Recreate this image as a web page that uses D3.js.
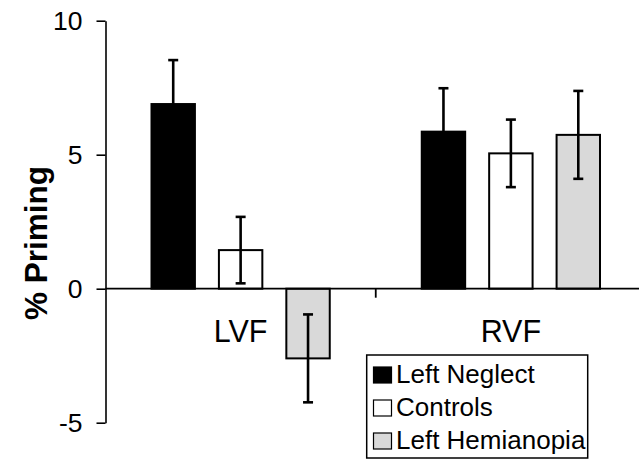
<!DOCTYPE html>
<html>
<head>
<meta charset="utf-8">
<script src="https://cdn.jsdelivr.net/npm/d3@7"></script>
<style>
  html, body { margin: 0; padding: 0; background: #fff; }
  svg { display: block; font-family: "Liberation Sans", Arial, Helvetica, sans-serif; }
</style>
</head>
<body>
<svg id="chart" width="639" height="459"></svg>
<script>
// ---- data ----
const categories = ["LVF", "RVF"];
const seriesNames = ["Left Neglect", "Controls", "Left Hemianopia"];
const leftNeglect = [6.89, 5.86];
const leftNeglectErr = [1.64, 1.62];
const controls = [1.44, 5.05];
const controlsErr = [1.24, 1.26];
const leftHemianopia = [-2.60, 5.74];
const leftHemianopiaErr = [1.64, 1.64];
const yTicks = [-5, 0, 5, 10];
const yTickLabels = ["-5", "0", "5", "10"];

const seriesValues = [leftNeglect, controls, leftHemianopia];
const seriesErrors = [leftNeglectErr, controlsErr, leftHemianopiaErr];
const fills = ["#000000", "#ffffff", "#d9d9d9"];

const svg = d3.select("#chart");

const y = d3.scaleLinear().domain([-5, 10]).range([422.7, 20.7]);
const x = d3.scaleBand().domain(categories).range([105.5, 646]).padding(0);
const xi = d3.scaleBand().domain(seriesNames).range([46, x.bandwidth() - 46]).paddingInner(0.356).paddingOuter(0);

// y axis
const yAxis = d3.axisLeft(y).tickValues(yTicks).tickSize(9).tickSizeOuter(0).tickPadding(14)
  .tickFormat((d, i) => yTickLabels[i]);
const gy = svg.append("g").attr("transform", "translate(105.5,0)").call(yAxis);
gy.select(".domain").attr("stroke", "#000").attr("stroke-width", 1.6);
gy.selectAll(".tick line").attr("stroke", "#000").attr("stroke-width", 1.6);
gy.selectAll(".tick text").attr("font-size", 26.5).attr("fill", "#000")
  .attr("font-family", "'Liberation Sans', Arial, sans-serif");

// bars
const rows = [];
categories.forEach((c, ci) => {
  seriesNames.forEach((s, si) => {
    rows.push({cat: c, ser: s, v: seriesValues[si][ci], e: seriesErrors[si][ci], fill: fills[si]});
  });
});

const gBars = svg.append("g");
gBars.selectAll("rect").data(rows).join("rect")
  .attr("x", d => x(d.cat) + xi(d.ser))
  .attr("width", xi.bandwidth())
  .attr("y", d => Math.min(y(d.v), y(0)))
  .attr("height", d => Math.abs(y(d.v) - y(0)))
  .attr("fill", d => d.fill)
  .attr("stroke", "#000")
  .attr("stroke-width", 2);

// error bars
const gErr = svg.append("g").attr("stroke", "#000").attr("stroke-width", 2.6);
rows.forEach(d => {
  const cx = x(d.cat) + xi(d.ser) + xi.bandwidth() / 2;
  gErr.append("line").attr("x1", cx).attr("x2", cx).attr("y1", y(d.v + d.e)).attr("y2", y(d.v - d.e));
  gErr.append("line").attr("x1", cx - 5).attr("x2", cx + 5).attr("y1", y(d.v + d.e)).attr("y2", y(d.v + d.e));
  gErr.append("line").attr("x1", cx - 5).attr("x2", cx + 5).attr("y1", y(d.v - d.e)).attr("y2", y(d.v - d.e));
});

// x axis line at zero
svg.append("line")
  .attr("x1", x.range()[0]).attr("x2", x.range()[1])
  .attr("y1", y(0)).attr("y2", y(0))
  .attr("stroke", "#000").attr("stroke-width", 1.8);
// category separator tick
svg.append("line")
  .attr("x1", x("RVF")).attr("x2", x("RVF"))
  .attr("y1", y(0)).attr("y2", y(0) + 9)
  .attr("stroke", "#000").attr("stroke-width", 1.8);

// category labels
svg.append("g").selectAll("text").data(categories).join("text")
  .attr("x", d => x(d) + x.bandwidth() / 2)
  .attr("y", 342)
  .attr("text-anchor", "middle")
  .attr("font-size", 30.5)
  .text(d => d);

// y title
svg.append("text")
  .attr("transform", "translate(47,243) rotate(-90)")
  .attr("text-anchor", "middle")
  .attr("font-size", 31.5)
  .attr("font-weight", "bold")
  .text("% Priming");

// legend
const lg = svg.append("g");
lg.append("rect").attr("x", 366.7).attr("y", 355).attr("width", 221).attr("height", 103)
  .attr("fill", "#fff").attr("stroke", "#000").attr("stroke-width", 1.5);
seriesNames.forEach((s, i) => {
  lg.append("rect").attr("x", 373.5).attr("y", 367 + i * 33).attr("width", 18).attr("height", 16)
    .attr("fill", fills[i]).attr("stroke", "#000").attr("stroke-width", 1.2);
  lg.append("text").attr("x", 396).attr("y", 382.5 + i * 33).attr("font-size", 26).text(s);
});
</script>
</body>
</html>
